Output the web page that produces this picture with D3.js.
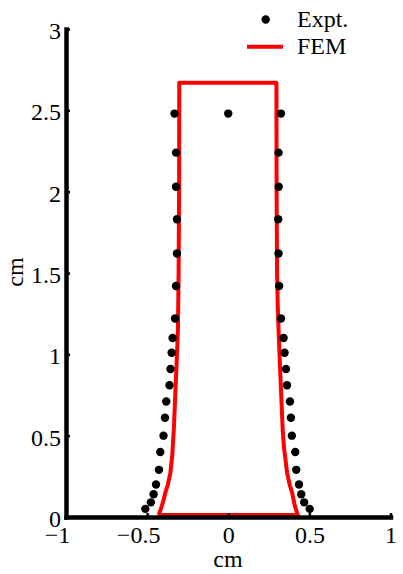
<!DOCTYPE html>
<html><head><meta charset="utf-8">
<script src="https://cdn.jsdelivr.net/npm/d3@7"></script>
<style>
body{margin:0;background:#fff;}
text{font-family:"Liberation Serif","Times New Roman",serif;fill:#000;}
</style></head>
<body><div id="chart"></div>
<script>
// Experimental points (cm)
const exptY      = [2.48, 2.24, 2.03, 1.83, 1.62, 1.42, 1.22, 1.10, 1.01, 0.91, 0.81, 0.71, 0.61, 0.50, 0.40, 0.29, 0.20, 0.14, 0.09, 0.05];
const exptLeftX  = [-0.331,-0.322,-0.322,-0.316,-0.316,-0.322,-0.328,-0.343,-0.349,-0.356,-0.362,-0.382,-0.390,-0.399,-0.419,-0.427,-0.445,-0.460,-0.477,-0.511];
const exptRightX = [0.325,0.310,0.311,0.308,0.310,0.314,0.325,0.341,0.347,0.356,0.362,0.380,0.386,0.392,0.413,0.419,0.436,0.450,0.468,0.502];
const exptCenter = [[0, 2.48]];
// FEM profile (closed outline)
const femX = [-0.429,-0.415,-0.400,-0.388,-0.372,-0.357,-0.345,-0.335,-0.327,-0.318,-0.310,-0.306,-0.303,-0.302,
               0.297, 0.298, 0.301, 0.305, 0.310, 0.318, 0.327, 0.335, 0.343, 0.363, 0.378, 0.394, 0.410, 0.429, -0.429];
const femY = [0.012, 0.05, 0.10, 0.148, 0.20, 0.27, 0.38, 0.55, 0.74, 0.95, 1.15, 1.5, 2.0, 2.67,
              2.67, 2.0, 1.5, 1.3, 1.15, 0.95, 0.74, 0.55, 0.43, 0.27, 0.20, 0.148, 0.07, 0.012, 0.012];
const xTicks = [-1, -0.5, 0, 0.5, 1];
const yTicks = [0, 0.5, 1, 1.5, 2, 2.5, 3];
const legendLabels = ["Expt.", "FEM"];

const W = 403, H = 574;
const svg = d3.select("#chart").append("svg").attr("width", W).attr("height", H);
const x = d3.scaleLinear().domain([-1, 1]).range([66, 390.5]);
const y = d3.scaleLinear().domain([0, 3]).range([517, 29]);

// FEM line
const femPts = femX.map((v, i) => [v, femY[i]]);
svg.append("path").datum(femPts)
  .attr("d", d3.line().x(d => x(d[0])).y(d => y(d[1])))
  .attr("fill", "none").attr("stroke", "#ff0000").attr("stroke-width", 4)
  .attr("stroke-linejoin", "round");

// Axes
const fmt = d => d3.format("")(d).replace("-", "\u2212");
const gx = svg.append("g").attr("transform", `translate(0,${y(0)})`)
  .call(d3.axisBottom(x).tickValues(xTicks).tickSize(-4).tickSizeOuter(0).tickFormat(fmt));
const gy = svg.append("g").attr("transform", `translate(${x(-1)},0)`)
  .call(d3.axisLeft(y).tickValues(yTicks).tickSize(-4).tickSizeOuter(0).tickFormat(fmt));
[gx, gy].forEach(g => {
  g.select(".domain").attr("stroke", "#000").attr("stroke-width", 4.5).attr("stroke-linecap", "square");
  g.selectAll(".tick line").attr("stroke", "#000").attr("stroke-width", 2.5);
  g.selectAll(".tick text").attr("font-size", 24).attr("font-family", "Liberation Serif");
});
gx.selectAll(".tick text").attr("y", 9).attr("dy", "0.71em")
  .attr("dx", d => d < 0 ? -9 : 0);
gy.selectAll(".tick text").attr("x", -5).attr("dy", "0.4em");

// Points
const pts = exptY.map((v, i) => [exptLeftX[i], v])
  .concat(exptY.map((v, i) => [exptRightX[i], v]))
  .concat(exptCenter);
svg.append("g").selectAll("circle").data(pts).join("circle")
  .attr("cx", d => x(d[0])).attr("cy", d => y(d[1])).attr("r", 4.2).attr("fill", "#000");

// Axis labels
svg.append("text").attr("x", 228).attr("y", 567).attr("text-anchor", "middle")
  .attr("font-size", 24).text("cm");
svg.append("text").attr("transform", "translate(23,272) rotate(-90)").attr("text-anchor", "middle")
  .attr("font-size", 24).text("cm");

// Legend
svg.append("circle").attr("cx", 265.7).attr("cy", 19.5).attr("r", 4.2).attr("fill", "#000");
svg.append("line").attr("x1", 247).attr("x2", 283).attr("y1", 46.7).attr("y2", 46.7)
  .attr("stroke", "#ff0000").attr("stroke-width", 4);
svg.append("text").attr("x", 297).attr("y", 27.3).attr("font-size", 24).text(legendLabels[0]);
svg.append("text").attr("x", 297).attr("y", 54.3).attr("font-size", 24).text(legendLabels[1]);
</script></body></html>
